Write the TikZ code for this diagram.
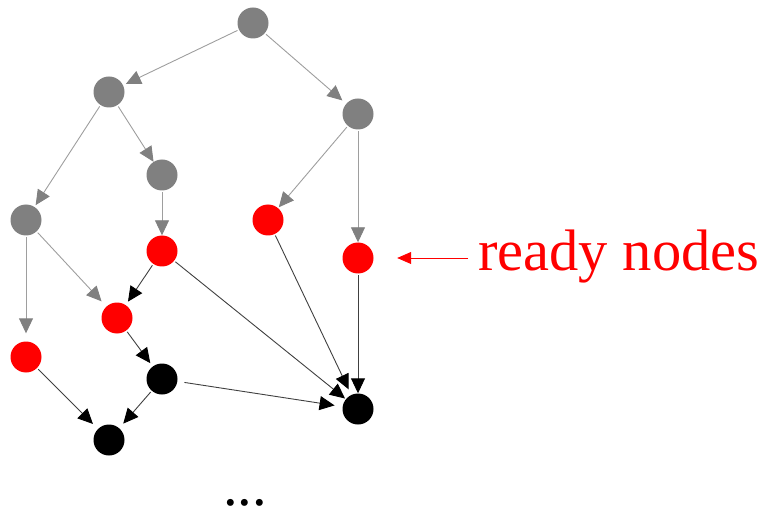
\documentclass[tikz,border=0pt]{standalone}
\usepackage{fontspec}
\setmainfont{Liberation Serif}
\usetikzlibrary{arrows.meta}
\begin{document}
\begin{tikzpicture}[x=1pt,y=-1pt,
  vtx/.style={circle,minimum size=31pt,inner sep=0pt,draw=none},
  gv/.style={vtx,fill=black!50},
  rv/.style={vtx,fill=red},
  bv/.style={vtx,fill=black},
  ge/.style={draw=black!38,line width=0.9pt,shorten <=1.5pt,-{Triangle[length=15pt,width=14pt,color=black!50]}},
  be/.style={draw=black!75,line width=0.9pt,shorten <=1.5pt,-{Triangle[length=15pt,width=14pt,color=black]}}]
\useasboundingbox (0,0) rectangle (767,510);
% vertices
\node[gv] (A) at (253,23) {};
\node[gv] (B) at (109,92) {};
\node[gv] (C) at (358,114) {};
\node[gv] (D) at (162,175) {};
\node[gv] (E) at (26,220) {};
\node[rv] (F) at (268,220) {};
\node[rv] (G) at (162,251) {};
\node[rv] (H) at (358,258) {};
\node[rv] (I) at (117,318) {};
\node[rv] (J) at (26,357) {};
\node[bv] (K) at (162,379) {};
\node[bv] (L) at (358,409) {};
\node[bv] (M) at (109,440) {};
% gray edges
\draw[ge,shorten >=3pt] (A) -- (B);
\draw[ge,shorten >=5pt] (A) -- (C);
\draw[ge,shorten >=2pt] (B) -- (E);
\draw[ge,shorten >=0pt] (B) -- (D);
\draw[ge,shorten >=1pt] (C) -- (F);
\draw[ge,shorten >=0pt] (C) -- (H);
\draw[ge,shorten >=0pt] (D) -- (G);
\draw[ge,shorten >=8pt] (E) -- (J);
\draw[ge,shorten >=7pt] (E) -- (I);
% black edges
\draw[be,shorten >=4pt] (G) -- (I);
\draw[be,shorten >=1pt] (G) -- (L);
\draw[be,shorten >=6pt] (F) -- (L);
\draw[be,shorten >=0pt] (H) -- (L);
\draw[be,shorten >=4pt] (I) -- (K);
\draw[be,shorten >=7pt] (J) -- (M);
\draw[be,shorten >=6pt] (K) -- (M);
\draw[be,shorten <=7pt,shorten >=8pt] (K) -- (L);
% label
\node[anchor=base west,inner sep=0pt,text=red,font=\fontsize{58.5}{62}\selectfont] (lbl) at (478,270) {ready nodes};
\coordinate (rs) at (468,258);
\draw[red,line width=0.8pt,shorten >=23.5pt,-{Triangle[length=14pt,width=12pt]}] (rs) -- (H);
% dots
\node[anchor=base,inner sep=0pt,text height=6pt,text depth=0pt,font=\fontsize{58.5}{62}\selectfont] (dots) at (245,505) {...};
\end{tikzpicture}
\end{document}
